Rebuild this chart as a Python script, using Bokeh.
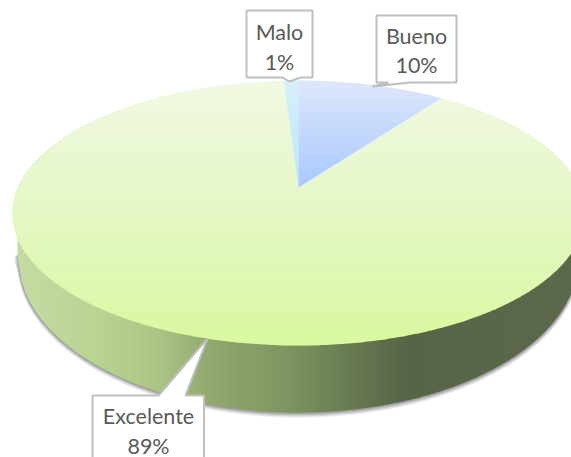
import math
from bokeh.plotting import figure
from bokeh.models import Range1d, ColumnDataSource
from bokeh.core.properties import value
from bokeh.embed import file_html
from bokeh.resources import INLINE

categories = ["Bueno", "Excelente", "Malo"]
shares = [10, 89, 1]
percent_labels = ["10%", "89%", "1%"]

# pie projection
APEX_X, APEX_Y = 298.0, 187.0
A, B, K = 281.0, 127.6, 0.1925
LOW_CY, LOW_RX, LOW_RY = 258.0, 280.0, 154.0


def project(theta, r=1.0):
    u, v = r * math.sin(theta), r * math.cos(theta)
    w = 1 + K * v
    return APEX_X + A * u / w, APEX_Y - B * v / w


def wedge(start, end):
    n = max(4, int((end - start) * 90))
    pts = [(APEX_X, APEX_Y)]
    for i in range(n + 1):
        pts.append(project(start + (end - start) * i / n))
    return pts


def clip(poly, y0, keep_below):
    out = []
    inside = (lambda q: q[1] >= y0) if keep_below else (lambda q: q[1] <= y0)
    for i, q in enumerate(poly):
        pr = poly[i - 1]
        if inside(q) != inside(pr):
            t = (y0 - pr[1]) / (q[1] - pr[1])
            out.append((pr[0] + t * (q[0] - pr[0]), y0))
        if inside(q):
            out.append(q)
    return out


def lerp_color(stops, t):
    for (t0, c0), (t1, c1) in zip(stops, stops[1:]):
        if t <= t1:
            f = 0 if t1 == t0 else max(0, (t - t0) / (t1 - t0))
            c = [round(a + (b - a) * f) for a, b in zip(c0, c1)]
            return "#%02x%02x%02x" % tuple(c)
    return "#%02x%02x%02x" % tuple(stops[-1][1])


def ell_low(x, cy, rx, ry, cx=298.0):
    d = (x - cx) / rx
    return cy + ry * math.sqrt(max(0.0, 1 - d * d))


p = figure(width=571, height=457, x_range=Range1d(0, 571), y_range=Range1d(457, 0),
           toolbar_location=None, output_backend="svg", min_border=0,
           background_fill_color="white", border_fill_color="white")
p.axis.visible = False
p.grid.visible = False
p.outline_line_color = None

# soft shadow under the wall
for grow, alpha in [(4.0, 0.10), (3.0, 0.16), (2.0, 0.22), (1.0, 0.28)]:
    xs = [18 + i * 3.0 - grow for i in range(0, 190)]
    ys = [ell_low(x, LOW_CY + grow * 0.9, LOW_RX + grow * 0.4, LOW_RY + grow * 0.4) for x in xs]
    p.patch(xs + [xs[-1], xs[0]], ys + [255, 255], fill_color="#555560", fill_alpha=alpha, line_color=None)

# side wall of the largest slice, as vertical colour strips
wall_stops = [(18, (196, 218, 164)), (90, (186, 212, 148)), (160, (170, 196, 132)),
              (207, (146, 170, 112)), (290, (124, 148, 96)), (350, (104, 122, 82)),
              (405, (88, 100, 70)), (480, (90, 102, 74)), (571, (92, 104, 74))]
wx, wy, wc = [], [], []
x = 17.0
while x < 571:
    x1 = x + 4
    wx.append([x, x1 + 0.6, x1 + 0.6, x])
    wy.append([215, 215, ell_low(x1 + 0.6, LOW_CY, LOW_RX, LOW_RY), ell_low(x, LOW_CY, LOW_RX, LOW_RY)])
    wc.append(lerp_color(wall_stops, x + 2))
    x = x1
p.patches(wx, wy, fill_color=wc, line_color=None)

# top face, from the values
total = sum(shares)
face_styles = {
    "Bueno": [(80, (221, 231, 250)), (187, (168, 200, 255))],
    "Excelente": [(80, (240, 249, 226)), (200, (230, 247, 200)), (345, (216, 248, 160))],
    "Malo": [(80, (212, 240, 250)), (187, (184, 232, 250))],
}
order = [1, 2, 0]
angles = {}
acc = 0.0
for i in range(len(categories)):
    a0 = acc / total * 2 * math.pi
    acc += shares[i]
    angles[categories[i]] = (a0, acc / total * 2 * math.pi)

for i in order:
    name = categories[i]
    a0, a1 = angles[name]
    poly = wedge(a0, a1)
    ys_all = [q[1] for q in poly]
    y = min(ys_all)
    ymax = max(ys_all)
    xs_s, ys_s, cs = [], [], []
    while y < ymax:
        band = clip(clip(poly, y, True), y + 3.6, False)
        if len(band) >= 3:
            xs_s.append([q[0] for q in band])
            ys_s.append([q[1] for q in band])
            cs.append(lerp_color(face_styles[name], y + 1.5))
        y += 3
    p.patches(xs_s, ys_s, fill_color=cs, line_color=None)

# callouts
box_border = "#bfbfbf"
callouts = [
    [(376, 15), (456, 15), (456, 82), (410, 82), (372, 86), (388, 82), (376, 82)],
    [(92, 395), (158, 395), (207, 338), (185, 395), (203.5, 395), (203.5, 475), (92, 475)],
    [(246, 10), (312, 10), (312, 77), (300, 77), (289, 81), (282, 77), (246, 77)],
]
for c in callouts:
    p.patch([q[0] for q in c], [q[1] for q in c], fill_color="white", line_color=box_border, line_width=2)

label_x = [416, 148, 279]
name_y = [35, 415, 31]
pct_y = [64, 445, 61]
src = ColumnDataSource(dict(x=label_x, y1=name_y, y2=pct_y, name=categories, pct=percent_labels))
for ycol, tcol in (("y1", "name"), ("y2", "pct")):
    p.text(x="x", y=ycol, text=tcol, source=src, text_font=value("Lato"), text_font_size="21.5px",
           text_color="#595959", text_align="center", text_baseline="middle")

open("out.html", "w").write(file_html(p, INLINE))
